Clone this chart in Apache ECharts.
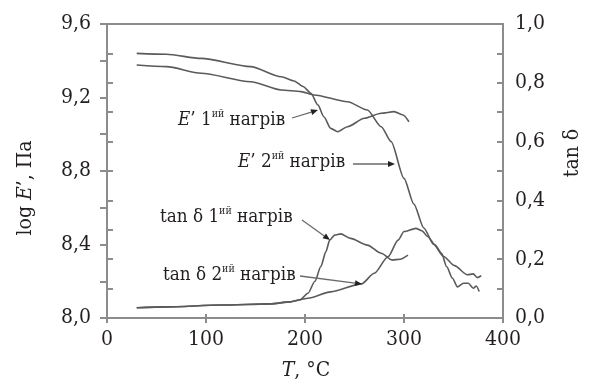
<!DOCTYPE html>
<html>
<head>
<meta charset="utf-8">
<script src="https://cdn.jsdelivr.net/npm/echarts@6/dist/echarts.min.js"></script>
<style>html,body{margin:0;padding:0;background:#fff;}#c{width:591px;height:383px;}</style>
</head>
<body>
<div id="c"></div>
<script>
// ---- data ----
const xTicks = [0, 100, 200, 300, 400];
const leftTicks = [8.0, 8.4, 8.8, 9.2, 9.6];
const rightTicks = [0.0, 0.2, 0.4, 0.6, 0.8, 1.0];

const e1T = [30, 60, 95, 145, 176, 189, 198, 206, 213, 219, 226, 233, 243, 260, 277, 290, 299, 305];
const e1V = [9.44, 9.435, 9.413, 9.368, 9.313, 9.29, 9.26, 9.223, 9.16, 9.095, 9.032, 9.014, 9.041, 9.087, 9.114, 9.123, 9.105, 9.068];

const e2T = [30, 60, 95, 145, 176, 196, 209, 243, 263, 277, 287, 300, 310, 320, 330, 340, 351, 364, 370, 374, 378];
const e2V = [9.377, 9.368, 9.332, 9.286, 9.241, 9.232, 9.214, 9.177, 9.132, 9.041, 8.96, 8.76, 8.62, 8.49, 8.40, 8.335, 8.285, 8.235, 8.24, 8.22, 8.23];

const t1T = [30, 60, 115, 165, 185, 195, 203, 210, 216, 221, 225, 230, 236, 246, 263, 277, 288, 296, 304];
const t1V = [0.035, 0.038, 0.044, 0.048, 0.055, 0.062, 0.084, 0.125, 0.175, 0.225, 0.265, 0.282, 0.286, 0.271, 0.248, 0.22, 0.197, 0.2, 0.214];

const t2T = [30, 60, 115, 165, 185, 203, 226, 257, 270, 284, 294, 300, 312, 318, 324, 331, 338, 343, 349, 354, 360, 365, 370, 373, 376];
const t2V = [0.035, 0.038, 0.044, 0.048, 0.055, 0.067, 0.089, 0.116, 0.152, 0.209, 0.265, 0.294, 0.305, 0.297, 0.277, 0.25, 0.22, 0.175, 0.135, 0.106, 0.118, 0.118, 0.101, 0.109, 0.09];

const seriesNames = ["E’ 1ий нагрів", "E’ 2ий нагрів", "tan δ 1ий нагрів", "tan δ 2ий нагрів"];

// ---- styling ----
const FONT = 'DejaVu Serif Condensed';
const AXIS = '#8c8c8c';
const TXT = '#231f20';
const CURVE = '#5a5a5a';
const FS = 21;

function pairs(t, v) { return t.map((x, i) => [x, v[i]]); }
const comma = v => v.toFixed(1).replace('.', ',');

const chart = echarts.init(document.getElementById('c'), null, {renderer: 'canvas'});

const baseY = {
  axisLine: {show: true, lineStyle: {color: AXIS, width: 2}},
  splitLine: {show: false}
};

const option = {
  backgroundColor: '#fff',
  animation: false,
  grid: {left: 107, right: 88, top: 24, bottom: 65, show: true, borderColor: AXIS, borderWidth: 2, backgroundColor: 'transparent'},
  xAxis: [
    {type: 'value', min: xTicks[0], max: xTicks[xTicks.length - 1], interval: 100, position: 'bottom',
     axisLine: {show: true, lineStyle: {color: AXIS, width: 2}},
     axisTick: {show: true, inside: false, length: 5, lineStyle: {color: AXIS, width: 2}},
     axisLabel: {color: TXT, fontFamily: FONT, fontSize: FS, margin: 11},
     splitLine: {show: false}},
    {type: 'value', min: xTicks[0], max: xTicks[xTicks.length - 1], interval: 100, position: 'bottom',
     axisLine: {show: false},
     axisTick: {show: true, inside: true, length: 4, lineStyle: {color: AXIS, width: 2}},
     axisLabel: {show: false}, splitLine: {show: false}}
  ],
  yAxis: [
    Object.assign({type: 'value', min: leftTicks[0], max: leftTicks[leftTicks.length - 1], interval: 0.2, position: 'left',
     axisTick: {show: true, inside: false, length: 7, lineStyle: {color: AXIS, width: 2}},
     axisLabel: {color: TXT, fontFamily: FONT, fontSize: FS, margin: 16,
       formatter: v => (Math.round(v * 10) % 4 === 0 ? comma(v) : '')}}, baseY),
    Object.assign({type: 'value', min: rightTicks[0], max: rightTicks[rightTicks.length - 1], interval: 0.1, position: 'right',
     axisTick: {show: true, inside: false, length: 6, lineStyle: {color: AXIS, width: 2}},
     axisLabel: {color: TXT, fontFamily: FONT, fontSize: FS, margin: 12,
       formatter: v => (Math.round(v * 10) % 2 === 0 ? comma(v) : '')}}, baseY),
    {type: 'value', min: rightTicks[0], max: rightTicks[rightTicks.length - 1], interval: 0.1, position: 'right',
     axisLine: {show: false}, axisTick: {show: true, inside: true, length: 6, lineStyle: {color: AXIS, width: 2}},
     axisLabel: {show: false}, splitLine: {show: false}}
  ],
  series: [
    {name: seriesNames[0], type: 'line', data: pairs(e1T, e1V), yAxisIndex: 0},
    {name: seriesNames[1], type: 'line', data: pairs(e2T, e2V), yAxisIndex: 0},
    {name: seriesNames[2], type: 'line', data: pairs(t1T, t1V), yAxisIndex: 1},
    {name: seriesNames[3], type: 'line', data: pairs(t2T, t2V), yAxisIndex: 1}
  ].map(s => Object.assign(s, {showSymbol: false, symbol: 'none', smooth: 0.25, smoothMonotone: 'x',
        lineStyle: {color: CURVE, width: 1.6}, z: 3}))
};

// ---- annotations (layout in pixels) ----
const labelRich = {
  n: {fontFamily: FONT, fontSize: 18.7, fill: TXT, lineHeight: 22},
  i: {fontFamily: FONT, fontSize: 18.7, fontStyle: 'italic', fill: TXT, lineHeight: 22},
  s: {fontFamily: FONT, fontSize: 10.5, fill: TXT, lineHeight: 22, verticalAlign: 'top'}
};
const annotations = [
  {text: '{i|E}{n|’ 1}{s|ий}{n| нагрів}', x: 178, y: 120, from: [292, 118], to: [318, 110]},
  {text: '{i|E}{n|’ 2}{s|ий}{n| нагрів}', x: 238, y: 162, from: [353, 164], to: [395, 164]},
  {text: '{n|tan δ 1}{s|ий}{n| нагрів}', x: 160, y: 217, from: [302, 220], to: [330, 240]},
  {text: '{n|tan δ 2}{s|ий}{n| нагрів}', x: 163, y: 275, from: [300, 276], to: [362, 284]}
];
const graphics = [];
annotations.forEach(a => {
  graphics.push({type: 'text', x: a.x, y: a.y, z: 10,
    style: {text: a.text, rich: labelRich, align: 'left', verticalAlign: 'middle'}});
  const [x1, y1] = a.from, [x2, y2] = a.to;
  const ang = Math.atan2(y2 - y1, x2 - x1);
  const L = 7, W = 3;
  const bx = x2 - L * Math.cos(ang), by = y2 - L * Math.sin(ang);
  graphics.push({type: 'line', z: 10, shape: {x1, y1, x2: bx, y2: by}, style: {stroke: '#6a6a6a', lineWidth: 1.3}});
  graphics.push({type: 'polygon', z: 10, shape: {points: [[x2, y2],
    [bx + W * Math.sin(ang), by - W * Math.cos(ang)], [bx - W * Math.sin(ang), by + W * Math.cos(ang)]]},
    style: {fill: '#222'}});
});
// axis names
const nameRich = {
  n: {fontFamily: FONT, fontSize: FS, fill: TXT},
  i: {fontFamily: FONT, fontSize: FS, fontStyle: 'italic', fill: TXT}
};
graphics.push({type: 'text', x: 26, y: 188, rotation: Math.PI / 2, z: 10,
  style: {text: '{n|log }{i|E}{n|’, Па}', rich: nameRich, align: 'center', verticalAlign: 'middle'}});
graphics.push({type: 'text', x: 573, y: 153, rotation: Math.PI / 2, z: 10,
  style: {text: '{n|tan δ}', rich: nameRich, align: 'center', verticalAlign: 'middle'}});
graphics.push({type: 'text', x: 306, y: 371, z: 10,
  style: {text: '{i|T}{n|, °C}', rich: nameRich, align: 'center', verticalAlign: 'middle'}});
option.graphic = graphics;

chart.setOption(option);
</script>
</body>
</html>
